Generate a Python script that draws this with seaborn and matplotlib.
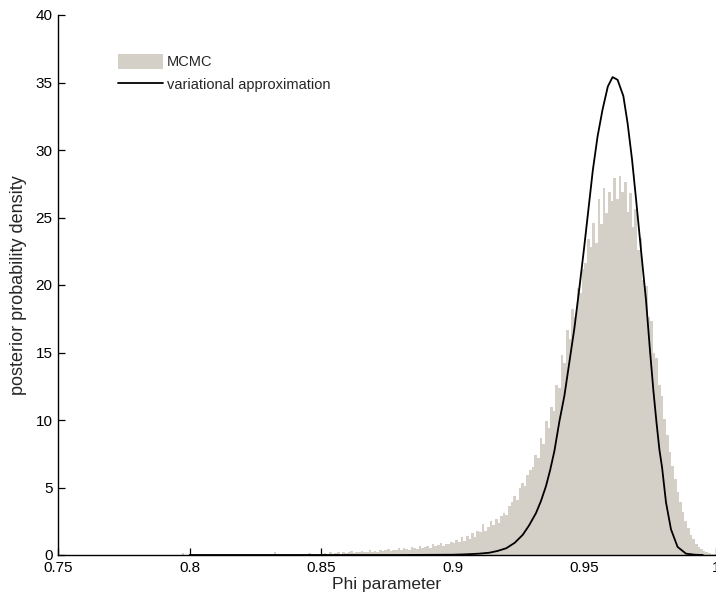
import numpy as np
import pandas as pd
import matplotlib
matplotlib.use("Agg")
import matplotlib.pyplot as plt
import seaborn as sns
from matplotlib.patches import Patch
from matplotlib.lines import Line2D

# ---------------- data ----------------
# MCMC histogram (density per 0.001-wide bin), bins starting at 0.850
mcmc_start = 0.850
mcmc_density = [
    0.10, 0.15, 0.05, 0.20, 0.10, 0.15, 0.20, 0.10, 0.25, 0.15,
    0.20, 0.30, 0.15, 0.25, 0.20, 0.30, 0.25, 0.20, 0.35, 0.25,
    0.30, 0.25, 0.40, 0.30, 0.35, 0.45, 0.30, 0.40, 0.35, 0.50,
    0.40, 0.55, 0.45, 0.40, 0.60, 0.50, 0.45, 0.65, 0.55, 0.60,
    0.70, 0.55, 0.80, 0.65, 0.75, 0.90, 0.70, 0.85, 0.80, 0.95,
    0.90, 1.10, 1.00, 1.30, 1.05, 1.40, 1.20, 1.60, 1.35, 1.75,
    1.70, 2.30, 1.80, 2.10, 2.50, 2.20, 2.70, 2.40, 2.90, 3.10,
    3.00, 3.60, 3.90, 4.40, 4.10, 5.00, 5.30, 5.10, 5.90, 6.30,
    6.50, 7.40, 7.20, 8.70, 8.20, 9.90, 9.40, 11.0, 10.7, 12.6,
    12.4, 14.8, 14.2, 16.7, 16.0, 18.2, 17.6, 19.8, 19.4, 21.2,
    21.6, 23.4, 22.8, 24.6, 23.1, 26.4, 24.5, 27.2, 25.3, 26.9,
    26.2, 27.9, 26.4, 28.1, 26.9, 27.6, 25.4, 26.8, 24.3, 25.6,
    22.6, 23.5, 20.4, 19.9, 17.6, 17.3, 15.0, 14.6, 12.6, 11.8,
    10.1, 8.9, 7.6, 6.6, 5.6, 4.7, 3.9, 3.2, 2.5, 2.0,
    1.50, 1.15, 0.85, 0.60, 0.45, 0.32, 0.22, 0.16, 0.10, 0.06,
]
# isolated MCMC draws far in the left tail
sparse_phi = [0.7975, 0.8325, 0.8335, 0.8435, 0.8455]
sparse_density = [0.15, 0.20, 0.10, 0.10, 0.15]

# variational approximation curve
phi_line = [0.800, 0.880, 0.900, 0.905, 0.910, 0.9139, 0.917, 0.9203, 0.9235,
            0.9266, 0.929, 0.9316, 0.9335, 0.9354, 0.937, 0.9386, 0.9405,
            0.9424, 0.9443, 0.9462, 0.9481, 0.9498, 0.9513, 0.9532, 0.955,
            0.9569, 0.9589, 0.9607, 0.9626, 0.9648, 0.9664, 0.9681, 0.9696,
            0.9715, 0.9734, 0.9749, 0.9762, 0.9774, 0.9785, 0.9795, 0.981,
            0.9829, 0.9854, 0.9886, 0.992, 0.995]
density_line = [0.0, 0.0, 0.02, 0.05, 0.10, 0.17, 0.30, 0.50, 0.90,
                1.5, 2.2, 3.1, 4.0, 5.1, 6.3, 7.7, 9.9,
                11.8, 14.3, 16.8, 19.8, 22.6, 25.2, 28.5, 31.0,
                33.0, 34.7, 35.4, 35.2, 34.0, 32.0, 29.3, 26.4,
                22.6, 18.9, 15.2, 12.2, 9.8, 7.8, 6.5, 3.9,
                1.9, 0.6, 0.1, 0.02, 0.0]

x_ticks = [0.75, 0.80, 0.85, 0.90, 0.95, 1.00]
x_tick_labels = ["0.75", "0.8", "0.85", "0.9", "0.95", "1"]
y_ticks = [0, 5, 10, 15, 20, 25, 30, 35, 40]

# ---------------- plot ----------------
sns.set_style("ticks")
plt.rcParams["font.family"] = ["Liberation Sans", "DejaVu Sans"]

bw = 0.001
centers = [mcmc_start + bw * (i + 0.5) for i in range(len(mcmc_density))]
hist_df = pd.DataFrame({
    "phi": list(sparse_phi) + centers,
    "density": list(sparse_density) + list(mcmc_density),
})

fig = plt.figure(figsize=(7.16, 6.0), dpi=100)
ax = fig.add_axes([0.081, 0.075, 0.919, 0.90])

hist_color = "#d4d0c8"
sns.histplot(data=hist_df, x="phi", weights="density", binwidth=bw,
             binrange=(0.795, 1.0), stat="count", element="step",
             fill=True, color=hist_color, alpha=1.0, linewidth=0, ax=ax)

line_df = pd.DataFrame({"phi": phi_line, "density": density_line})
sns.lineplot(data=line_df, x="phi", y="density", color="black",
             linewidth=1.3, ax=ax, sort=False)

ax.set_xlim(0.75, 1.0)
ax.set_ylim(0, 40)
ax.set_xticks(x_ticks)
ax.set_xticklabels(x_tick_labels)
ax.set_yticks(y_ticks)
ax.tick_params(direction="in", length=5, width=0.9, labelsize=11,
               colors="black", pad=4)
for s in ["top", "right"]:
    ax.spines[s].set_visible(False)
for s in ["left", "bottom"]:
    ax.spines[s].set_linewidth(1.0)
    ax.spines[s].set_color("black")

ax.set_xlabel("Phi parameter", fontsize=12.5, labelpad=2)
ax.set_ylabel("posterior probability density", fontsize=13, labelpad=6)

handles = [Patch(facecolor=hist_color, edgecolor="none", label="MCMC"),
           Line2D([0], [0], color="black", linewidth=1.3,
                  label="variational approximation")]
ax.legend(handles=handles, loc="upper left",
          bbox_to_anchor=(118 / 716, 1 - 54 / 600),
          bbox_transform=fig.transFigure, frameon=False, fontsize=10.5,
          handlelength=3.1, handleheight=1.2, handletextpad=0.25,
          labelspacing=0.5, borderpad=0, borderaxespad=0)

fig.savefig("out.png", dpi=100)
